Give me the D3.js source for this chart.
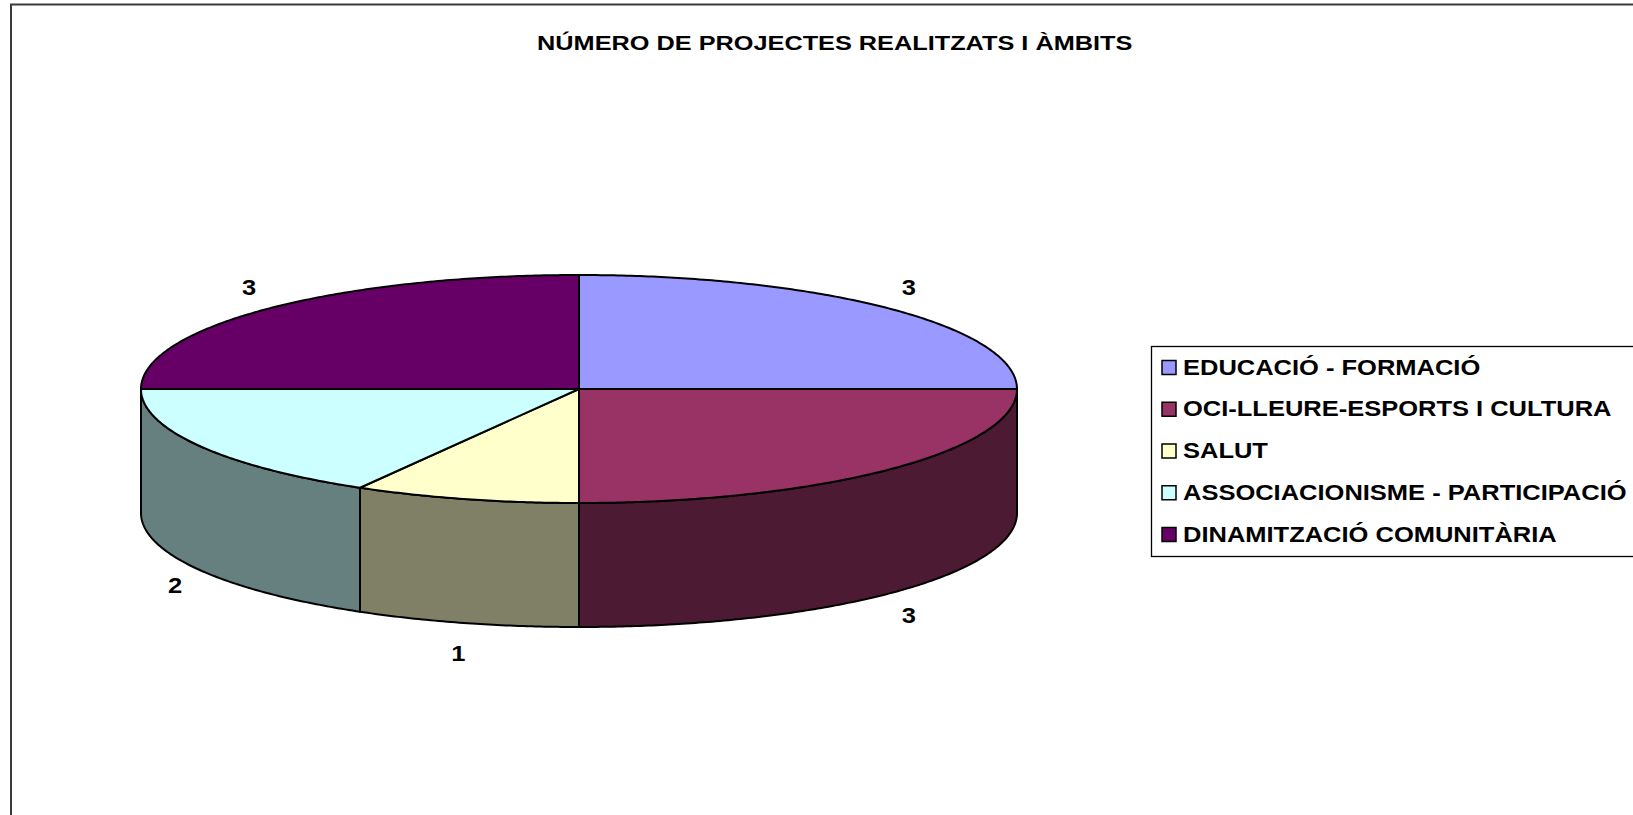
<!DOCTYPE html>
<html>
<head>
<meta charset="utf-8">
<script src="https://cdn.jsdelivr.net/npm/d3@7"></script>
<style>
  html, body { margin: 0; padding: 0; background: #fff; overflow: hidden; }
  svg { display: block; }
  text { font-family: Arial, "Liberation Sans", sans-serif; font-weight: bold; fill: #000; }
</style>
</head>
<body>
<svg id="chart" width="1633" height="815"></svg>
<script>
// ---- data ----
const title = "NÚMERO DE PROJECTES REALITZATS I ÀMBITS";
const categories = [
  "EDUCACIÓ - FORMACIÓ",
  "OCI-LLEURE-ESPORTS I CULTURA",
  "SALUT",
  "ASSOCIACIONISME - PARTICIPACIÓ",
  "DINAMITZACIÓ COMUNITÀRIA"
];
const values = [3, 3, 1, 2, 3];
const colors = ["#9999FF", "#993366", "#FFFFCC", "#CCFFFF", "#660066"];

// ---- layout ----
const W = 1633, H = 815;
const cx = 579, cy = 389, rx = 438, ry = 114, depth = 124;
const fontSize = 22.5, stretch = 1.133;

const svg = d3.select("#chart");
svg.append("rect").attr("width", W).attr("height", H).attr("fill", "#fff");

// outer chart frame (extends beyond right/bottom edges like the reference)
svg.append("rect")
  .attr("x", 11).attr("y", 4.5).attr("width", 1647).attr("height", 840)
  .attr("fill", "none").attr("stroke", "#3a3a3a").attr("stroke-width", 2);

// title
svg.append("text")
  .attr("transform", `translate(834.7,50) scale(1.234,1)`)
  .attr("text-anchor", "middle")
  .attr("font-size", 20.5)
  .text(title);

const color = d3.scaleOrdinal().domain(categories).range(colors);
const sideColor = c => { const r = d3.rgb(c); return d3.rgb(r.r * 0.5, r.g * 0.5, r.b * 0.5).formatHex(); };

const pie = d3.pie().sort(null).value(d => d.v).startAngle(0).endAngle(2 * Math.PI);
const arcs = pie(categories.map((c, i) => ({ c, v: values[i] })));

const pt = (a, dy = 0) => [cx + rx * Math.sin(a), cy - ry * Math.cos(a) + dy];
const samples = (a0, a1, dy = 0) => {
  const n = Math.max(2, Math.ceil(Math.abs(a1 - a0) / 0.01));
  return d3.range(n + 1).map(i => pt(a0 + (a1 - a0) * i / n, dy));
};
const line = d3.line();

const g = svg.append("g");

// side walls (front half only: angles between PI/2 and 3PI/2)
arcs.forEach(d => {
  const s0 = Math.max(d.startAngle, Math.PI / 2);
  const s1 = Math.min(d.endAngle, 3 * Math.PI / 2);
  if (s1 <= s0) return;
  const top = samples(s0, s1, 0);
  const bot = samples(s1, s0, depth);
  g.append("path")
    .attr("d", line(top.concat(bot)) + "Z")
    .attr("fill", sideColor(color(d.data.c)))
    .attr("stroke", "#000").attr("stroke-width", 2).attr("stroke-linejoin", "round");
});

// top faces
arcs.forEach(d => {
  const pts = [[cx, cy]].concat(samples(d.startAngle, d.endAngle, 0));
  g.append("path")
    .attr("d", line(pts) + "Z")
    .attr("fill", color(d.data.c))
    .attr("stroke", "#000").attr("stroke-width", 2).attr("stroke-linejoin", "round");
});

// data labels
arcs.forEach(d => {
  const a = (d.startAngle + d.endAngle) / 2;
  const x = cx + rx * 1.065 * Math.sin(a);
  const y = cy - ry * 1.27 * Math.cos(a) + (Math.cos(a) < 0 ? depth : 0);
  svg.append("text")
    .attr("transform", `translate(${x},${y}) scale(${stretch},1)`)
    .attr("text-anchor", "middle")
    .attr("dy", "0.36em")
    .attr("font-size", fontSize)
    .text(d.data.v);
});

// legend
const lx = 1151.5, ly = 346.5, rowH = 41.75, row0 = 366.5;
svg.append("rect")
  .attr("x", lx).attr("y", ly).attr("width", 600).attr("height", 210)
  .attr("fill", "#fff").attr("stroke", "#000").attr("stroke-width", 1.3);
const leg = svg.append("g");
categories.forEach((c, i) => {
  const yc = row0 + i * rowH;
  leg.append("rect")
    .attr("x", 1162).attr("y", yc - 6).attr("width", 14).attr("height", 14)
    .attr("fill", color(c)).attr("stroke", "#000").attr("stroke-width", 1.5);
  leg.append("text")
    .attr("transform", `translate(1183,${yc + 8}) scale(${stretch},1)`)
    .attr("font-size", fontSize)
    .text(c);
});
</script>
</body>
</html>
